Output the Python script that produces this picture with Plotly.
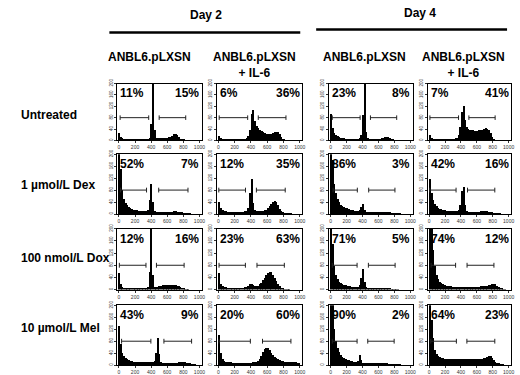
import plotly.graph_objects as go

W, H = 520, 375

# ---------------- data ----------------
bin_centers = list(range(10, 1000, 20))          # DNA-content channel (20-wide bins)
x_ticks = [0, 200, 400, 600, 800, 1000]
y_ticks = [0, 40, 80, 120, 160, 200]

day_labels = ["Day 2", "Day 4"]
col_labels = ["ANBL6.pLXSN", "ANBL6.pLXSN<br>+ IL-6", "ANBL6.pLXSN", "ANBL6.pLXSN<br>+ IL-6"]
row_labels = ["Untreated", "1 \u00b5mol/L Dex", "100 nmol/L Dox", "10 \u00b5mol/L Mel"]

left_pct = [["11%", "6%", "23%", "7%"],
            ["52%", "12%", "86%", "42%"],
            ["12%", "23%", "71%", "74%"],
            ["43%", "20%", "90%", "64%"]]
right_pct = [["15%", "36%", "8%", "41%"],
             ["7%", "35%", "3%", "16%"],
             ["16%", "63%", "5%", "12%"],
             ["9%", "60%", "2%", "23%"]]

# gate markers (channel ranges), drawn at count level GATE_Y
gate_left = [[[15, 370], [10, 360], [20, 370], [10, 370]],
             [[20, 343], [5, 333], [30, 335], [8, 339]],
             [[5, 336], [8, 332], [20, 332], [25, 333]],
             [[33, 397], [8, 393], [20, 332], [21, 343]]]
gate_right = [[[500, 830], [490, 830], [500, 830], [500, 830]],
              [[494, 858], [467, 821], [478, 808], [483, 826]],
              [[466, 810], [474, 810], [474, 810], [477, 815]],
              [[559, 903], [542, 891], [466, 798], [475, 826]]]
GATE_Y = 80

untreated_d2 = [28, 14, 10, 8, 7, 6, 6, 5, 5, 5,
                5, 5, 5, 5, 5, 5, 6, 6, 8, 12,
                60, 230, 40, 12, 10, 10, 10, 11, 11, 12,
                12, 13, 14, 18, 24, 26, 22, 14, 8, 5,
                4, 3, 2, 2, 1, 1, 1, 0, 0, 0]
untreated_d2_il6 = [16, 9, 7, 6, 5, 5, 5, 5, 5, 5,
                    5, 5, 5, 6, 6, 7, 8, 10, 16, 40,
                    95, 108, 70, 52, 44, 38, 34, 30, 27, 25,
                    24, 24, 25, 27, 30, 32, 30, 24, 14, 7,
                    4, 3, 2, 1, 1, 1, 0, 0, 0, 0]
untreated_d4 = [95, 45, 28, 20, 16, 13, 11, 10, 9, 8,
                8, 7, 7, 7, 7, 7, 8, 8, 10, 20,
                90, 230, 30, 10, 7, 7, 7, 7, 7, 7,
                8, 8, 9, 10, 13, 15, 14, 10, 6, 4,
                3, 2, 2, 1, 1, 1, 0, 0, 0, 0]
untreated_d4_il6 = [22, 12, 8, 7, 6, 6, 6, 6, 6, 6,
                    6, 6, 6, 6, 7, 8, 9, 12, 20, 50,
                    100, 123, 75, 50, 42, 40, 38, 37, 36, 36,
                    36, 37, 38, 40, 42, 44, 42, 38, 28, 14,
                    6, 3, 2, 1, 1, 1, 0, 0, 0, 0]

dex_d2 = [230, 150, 80, 50, 36, 28, 22, 18, 16, 14,
          13, 12, 11, 10, 10, 9, 9, 10, 14, 45,
          100, 40, 10, 6, 5, 5, 5, 5, 5, 5,
          5, 6, 6, 7, 8, 8, 7, 6, 4, 3,
          2, 2, 1, 1, 1, 0, 0, 0, 0, 0]
dex_d2_il6 = [40, 18, 12, 9, 8, 7, 7, 6, 6, 6,
              6, 6, 6, 6, 6, 7, 8, 10, 18, 70,
              115, 35, 14, 10, 10, 10, 10, 11, 12, 14,
              18, 25, 33, 40, 43, 38, 28, 16, 8, 4,
              2, 2, 1, 1, 1, 0, 0, 0, 0, 0]
dex_d4 = [230, 180, 100, 70, 50, 38, 30, 25, 22, 20,
          18, 16, 14, 13, 12, 11, 10, 10, 12, 24,
          33, 14, 6, 5, 4, 4, 4, 4, 4, 4,
          4, 4, 4, 4, 4, 4, 3, 3, 2, 2,
          1, 1, 1, 1, 0, 0, 0, 0, 0, 0]
dex_d4_il6 = [115, 70, 45, 32, 25, 20, 17, 15, 13, 12,
              11, 10, 10, 9, 9, 9, 10, 11, 14, 30,
              75, 90, 30, 8, 6, 6, 6, 6, 6, 6,
              7, 7, 8, 9, 10, 10, 9, 7, 5, 3,
              2, 2, 1, 1, 1, 0, 0, 0, 0, 0]

dox_d2 = [55, 20, 10, 7, 6, 5, 5, 5, 5, 5,
          5, 5, 5, 5, 5, 5, 5, 6, 10, 60,
          230, 50, 10, 8, 10, 12, 14, 15, 15, 15,
          15, 15, 16, 16, 15, 15, 14, 12, 8, 5,
          3, 2, 1, 1, 0, 0, 0, 0, 0, 0]
dox_d2_il6 = [55, 20, 12, 9, 8, 7, 7, 7, 6, 6,
              6, 6, 6, 6, 6, 7, 8, 10, 14, 18,
              20, 16, 12, 12, 14, 18, 24, 32, 40, 48,
              55, 60, 58, 50, 40, 30, 20, 12, 6, 3,
              2, 1, 1, 1, 0, 0, 0, 0, 0, 0]
dox_d4 = [230, 150, 80, 50, 35, 27, 22, 19, 17, 15,
          14, 13, 12, 11, 11, 10, 10, 11, 15, 40,
          70, 25, 8, 5, 5, 4, 4, 4, 4, 4,
          4, 5, 5, 6, 6, 5, 4, 3, 2, 2,
          1, 1, 1, 0, 0, 0, 0, 0, 0, 0]
dox_d4_il6 = [230, 200, 130, 80, 50, 35, 26, 22, 18, 16,
              14, 13, 12, 12, 11, 11, 11, 11, 11, 11,
              11, 11, 11, 11, 11, 11, 11, 11, 11, 11,
              11, 11, 12, 12, 12, 13, 14, 15, 17, 19,
              20, 18, 14, 9, 5, 3, 2, 1, 0, 0]

mel_d2 = [130, 70, 40, 28, 22, 18, 15, 13, 12, 11,
          10, 9, 9, 8, 8, 8, 8, 8, 8, 8,
          9, 10, 14, 40, 90, 35, 10, 6, 5, 5,
          5, 5, 5, 5, 6, 6, 7, 8, 8, 9,
          9, 8, 6, 4, 3, 2, 1, 1, 0, 0]
mel_d2_il6 = [100, 40, 20, 14, 11, 9, 8, 8, 7, 7,
              7, 7, 7, 7, 7, 7, 7, 7, 7, 7,
              7, 8, 9, 10, 14, 20, 30, 42, 52, 57,
              55, 48, 40, 32, 26, 22, 18, 15, 13, 12,
              11, 11, 10, 10, 9, 9, 8, 8, 7, 6]
mel_d4 = [230, 200, 120, 80, 57, 42, 33, 27, 22, 19,
          17, 15, 13, 12, 11, 10, 10, 12, 33, 15,
          6, 4, 3, 3, 3, 3, 3, 3, 3, 3,
          3, 3, 3, 3, 3, 3, 2, 2, 2, 2,
          1, 1, 1, 1, 0, 0, 0, 0, 0, 0]
mel_d4_il6 = [230, 150, 90, 50, 36, 30, 26, 24, 22, 21,
              20, 19, 19, 18, 18, 18, 18, 18, 18, 18,
              18, 18, 18, 18, 18, 18, 18, 18, 18, 19,
              19, 20, 20, 21, 22, 24, 27, 30, 28, 22,
              15, 10, 6, 4, 2, 1, 1, 0, 0, 0]

counts = [[untreated_d2, untreated_d2_il6, untreated_d4, untreated_d4_il6],
          [dex_d2, dex_d2_il6, dex_d4, dex_d4_il6],
          [dox_d2, dox_d2_il6, dox_d4, dox_d4_il6],
          [mel_d2, mel_d2_il6, mel_d4, mel_d4_il6]]

# ---------------- layout geometry (pixels) ----------------
COL_X = [(118, 203), (218, 304), (331, 415), (430, 514)]
ROW_Y = [(80, 138), (152, 213), (228, 290), (306, 367)]
FONT = "Liberation Sans, Arial, Helvetica, sans-serif"


def px(x):
    return x / W


def py(y):
    return 1 - y / H


fig = go.Figure()
layout = dict(
    width=W, height=H, margin=dict(l=0, r=0, t=0, b=0),
    paper_bgcolor="white", plot_bgcolor="white",
    showlegend=False, bargap=0, font=dict(family=FONT, color="black"),
)
annotations = []
shapes = []

for r in range(4):
    for c in range(4):
        k = r * 4 + c
        sid = "" if k == 0 else str(k + 1)
        xa, ya = "x" + sid, "y" + sid
        x0, x1 = COL_X[c]
        y0, y1 = ROW_Y[r]
        layout["xaxis" + sid] = dict(
            domain=[px(x0), px(x1)], range=[-20, 1030], anchor=ya,
            tickvals=x_ticks, ticks="outside", ticklen=2, tickwidth=0.6,
            tickcolor="#333", tickfont=dict(size=5, color="#333"),
            showline=True, mirror=True, linecolor="black", linewidth=1,
            showgrid=False, zeroline=False, fixedrange=True,
        )
        layout["yaxis" + sid] = dict(
            domain=[py(y1), py(y0)], range=[0, 200], anchor=xa,
            tickvals=y_ticks, ticks="outside", ticklen=2, tickwidth=0.6,
            tickcolor="#333", tickangle=-90, tickfont=dict(size=4.5, color="#333"),
            showline=True, mirror=True, linecolor="black", linewidth=1,
            showgrid=False, zeroline=False, fixedrange=True,
        )
        fig.add_trace(go.Bar(
            x=bin_centers, y=counts[r][c], width=20, xaxis=xa, yaxis=ya,
            marker=dict(color="black", line=dict(width=0)),
        ))
        # gate markers
        cap = 8
        gx, gy = [], []
        for a, b in (gate_left[r][c], gate_right[r][c]):
            gx += [a, a, None, a, b, None, b, b, None]
            gy += [GATE_Y - cap, GATE_Y + cap, None, GATE_Y, GATE_Y, None,
                   GATE_Y - cap, GATE_Y + cap, None]
        fig.add_trace(go.Scatter(
            x=gx, y=gy, mode="lines", xaxis=xa, yaxis=ya,
            line=dict(color="#222", width=1), hoverinfo="skip",
        ))
        annotations.append(dict(
            x=px(x0 + 1), y=py(y0 + 10), xref="paper", yref="paper",
            text="<b>%s</b>" % left_pct[r][c], showarrow=False,
            xanchor="left", yanchor="middle", font=dict(size=12),
        ))
        annotations.append(dict(
            x=px(x1 - 0.5), y=py(y0 + 10), xref="paper", yref="paper",
            text="<b>%s</b>" % right_pct[r][c], showarrow=False,
            xanchor="right", yanchor="middle", font=dict(size=12),
        ))

# day headers and lines
DAY_POS = [(207, 10, 110, 302, 28), (422, 8, 318, 510, 25)]
for lab, (tx, ty, lx0, lx1, ly) in zip(day_labels, DAY_POS):
    annotations.append(dict(
        x=px(tx), y=py(ty), xref="paper", yref="paper", text="<b>%s</b>" % lab,
        showarrow=False, xanchor="center", yanchor="middle", font=dict(size=12),
    ))
    shapes.append(dict(type="line", xref="paper", yref="paper",
                       x0=px(lx0), x1=px(lx1), y0=py(ly), y1=py(ly),
                       line=dict(color="black", width=2.5)))

# column headers
HEAD_X = [150, 256, 367, 466]
for lab, hx in zip(col_labels, HEAD_X):
    annotations.append(dict(
        x=px(hx), y=py(44), xref="paper", yref="paper", text="<b>%s</b>" % lab,
        showarrow=False, xanchor="center", yanchor="top", font=dict(size=12),
    ))

# row labels
ROW_LABEL_Y = [112, 183, 258, 329]
for lab, ry in zip(row_labels, ROW_LABEL_Y):
    annotations.append(dict(
        x=px(19), y=py(ry), xref="paper", yref="paper", text="<b>%s</b>" % lab,
        showarrow=False, xanchor="left", yanchor="middle", font=dict(size=12),
    ))

layout["annotations"] = annotations
layout["shapes"] = shapes
fig.update_layout(**layout)
fig.write_html("out.html", config={"displayModeBar": False},
               post_script="document.body.style.margin='0';")
